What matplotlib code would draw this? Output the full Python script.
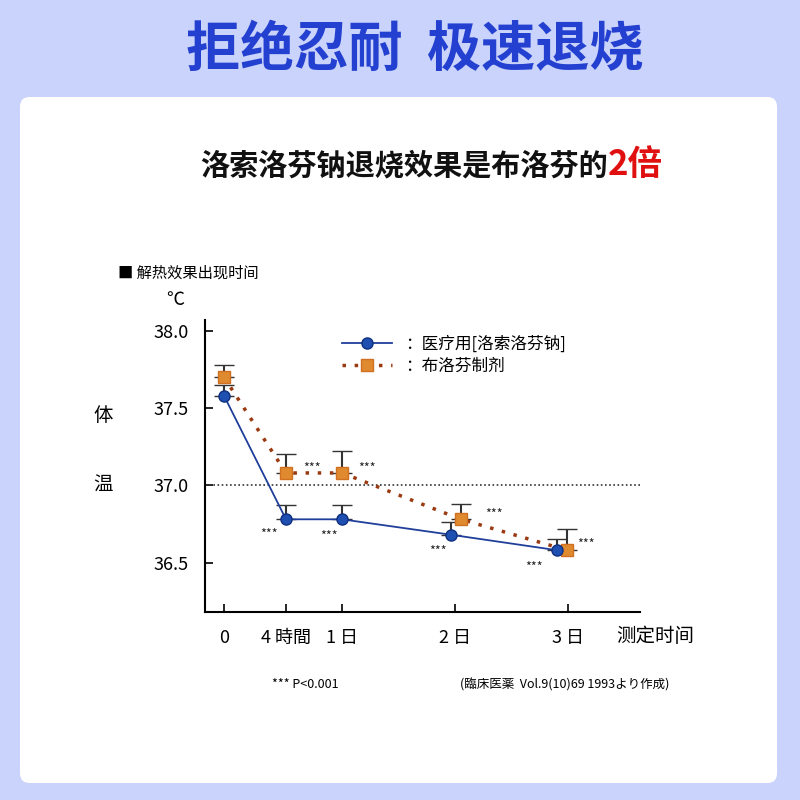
import matplotlib.pyplot as plt
from matplotlib.patches import FancyBboxPatch
import numpy as np

plt.rcParams['font.family'] = ['Noto Sans CJK SC', 'DejaVu Sans']

# 数据（x 单位：图上像素近似刻度，0/4時間/1日/2日/3日）
x_tick_pos = [0, 62, 118, 231, 344]
x_tick_labels = ['0', '4 時間', '1 日', '2 日', '3 日']
x_blue = [0, 62, 118, 227, 333]
x_orange = [0, 62, 118, 237, 343]
temp_blue = [37.58, 36.78, 36.78, 36.68, 36.58]
temp_orange = [37.70, 37.08, 37.08, 36.78, 36.58]
err_blue = [0.07, 0.09, 0.09, 0.08, 0.07]
err_orange = [0.08, 0.12, 0.14, 0.10, 0.14]
stars_blue = [None, (45, 36.68), (105, 36.67), (214, 36.57), (310, 36.47)]
stars_orange = [None, (88, 37.11), (143, 37.11), (270, 36.81), (362, 36.62)]

fig = plt.figure(figsize=(8, 8), dpi=100)
fig.patch.set_facecolor('#c9d3fb')
card = FancyBboxPatch((20/800, 17/800), 757/800, 686/800, boxstyle='round,pad=0,rounding_size=0.012',
                      transform=fig.transFigure, facecolor='white', edgecolor='none', zorder=-10)
fig.patches.append(card)

fig.text(0.519, 1-50/800, '拒绝忍耐  极速退烧', ha='center', va='center', fontsize=39,
         fontweight='bold', color='#2440d0')
fig.text(608/800, 1-165/800, '洛索洛芬钠退烧效果是布洛芬的', ha='right', va='center', fontsize=21,
         fontweight='bold', color='#111111')
fig.text(608/800, 1-165/800, '2倍', ha='left', va='center', fontsize=25,
         fontweight='bold', color='#e01010')

ax = fig.add_axes([205/800, 1-612/800, 435/800, 292/800])
ax.set_facecolor('none')
ax.set_xlim(-19, 416)
ax.set_ylim(36.18, 38.07)
for s in ['top', 'right']:
    ax.spines[s].set_visible(False)
ax.spines['left'].set_linewidth(1.5)
ax.spines['bottom'].set_linewidth(1.5)
ax.set_yticks([36.5, 37.0, 37.5, 38.0])
ax.set_yticklabels(['36.5', '37.0', '37.5', '38.0'], fontsize=13)
ax.set_xticks(x_tick_pos)
ax.set_xticklabels(x_tick_labels, fontsize=13)
ax.tick_params(direction='in', length=6, width=1.2, pad=12)

ax.axhline(37.0, color='#333333', ls=(0, (1, 1.5)), lw=1.2)

ax.errorbar(x_orange, temp_orange, yerr=[np.zeros(5), err_orange], fmt='none',
            ecolor='#333333', capsize=7, lw=1.5, zorder=2)
ax.errorbar(x_blue, temp_blue, yerr=[np.zeros(5), err_blue], fmt='none',
            ecolor='#333333', capsize=7, lw=1.5, zorder=2)
ax.plot(x_orange, temp_orange, ls=(0, (1, 2.5)), lw=2.5, color='#9a3a10',
        marker='s', ms=9, mfc='#e08a30', mec='#d07020', label='：布洛芬制剂', zorder=3)
ax.plot(x_blue, temp_blue, '-', lw=1.3, color='#1f3f9a', marker='o', ms=8,
        mfc='#1f4fb0', mec='#103080', label='：医疗用[洛索洛芬钠]', zorder=4)

for p in stars_blue + stars_orange:
    if p:
        ax.text(p[0], p[1], '***', fontsize=9, ha='center', va='center', color='#222222')

h, l = ax.get_legend_handles_labels()
ax.legend(h[::-1], l[::-1], loc='upper left', bbox_to_anchor=(0.28, 1.0), frameon=False,
          fontsize=12, handlelength=3, labelspacing=0.3)

fig.text(118/800, 1-273/800, '■ 解热效果出现时间', fontsize=11, va='center')
fig.text(175/800, 1-300/800, '℃', fontsize=13, va='center', ha='center')
fig.text(103/800, 1-415/800, '体', fontsize=14, va='center', ha='center')
fig.text(103/800, 1-485/800, '温', fontsize=14, va='center', ha='center')
fig.text(655/800, 1-637/800, '测定时间', fontsize=14, va='center', ha='center')
fig.text(305/800, 1-685/800, '*** P<0.001', fontsize=9, va='center', ha='center')
fig.text(565/800, 1-685/800, '(臨床医薬  Vol.9(10)69 1993より作成)', fontsize=9,
         va='center', ha='center', family=['Noto Sans CJK JP', 'DejaVu Sans'])

fig.savefig('out.png', dpi=100)
